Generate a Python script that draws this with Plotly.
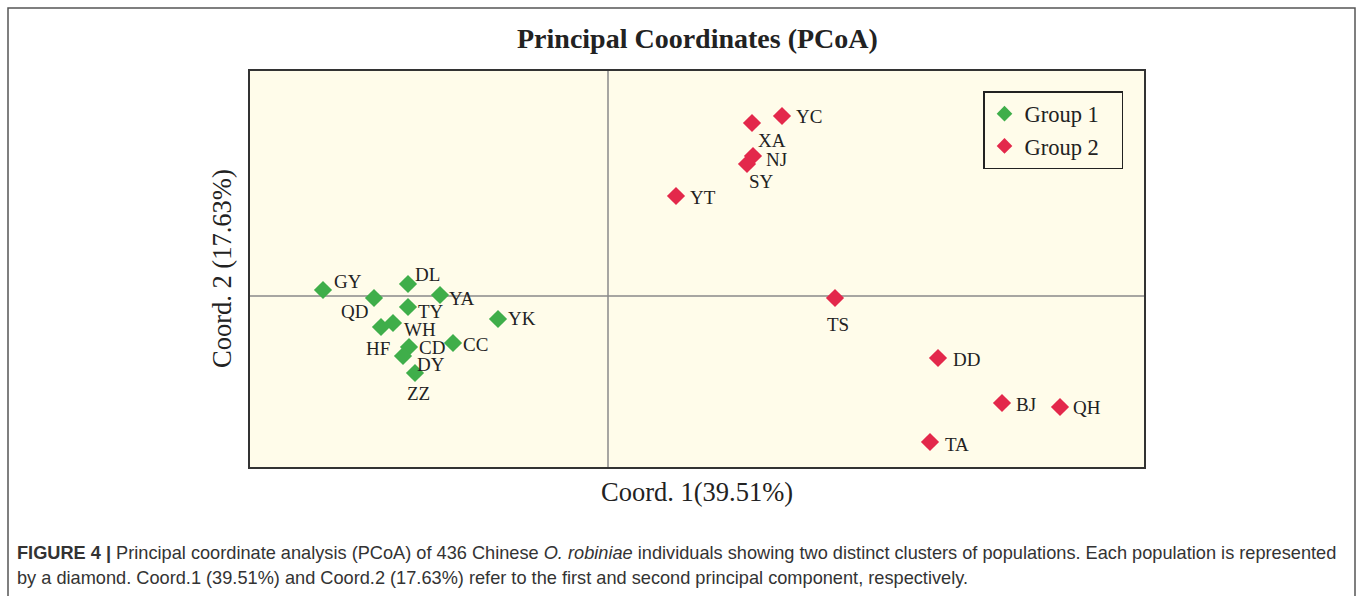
import plotly.graph_objects as go

# ---- data ----
g1_labels = ["GY", "DL", "QD", "YA", "TY", "WH", "HF", "YK", "CC", "CD", "DY", "ZZ"]
g1_x = [-0.285, -0.200, -0.234, -0.168, -0.200, -0.215, -0.227, -0.110, -0.155, -0.199, -0.205, -0.193]
g1_y = [0.006, 0.012, -0.002, 0.001, -0.011, -0.027, -0.031, -0.023, -0.047, -0.051, -0.060, -0.077]

g2_labels = ["YC", "XA", "NJ", "SY", "YT", "TS", "DD", "BJ", "QH", "TA"]
g2_x = [0.174, 0.144, 0.145, 0.139, 0.068, 0.227, 0.330, 0.394, 0.452, 0.322]
g2_y = [0.180, 0.173, 0.140, 0.132, 0.100, -0.002, -0.062, -0.107, -0.111, -0.146]

# label placement (style): (xanchor, xshift px, yshift px)
g1_lab_style = [("left", 9, 9), ("left", 5, 10), ("right", -4, -13), ("left", 7, -3),
                ("left", 8, -4), ("left", 9, -6), ("center", -3, -21), ("left", 8, 1),
                ("left", 8, -1), ("left", 8, 0), ("left", 12, -8), ("center", 3, -20)]
g2_lab_style = [("left", 12, 0), ("center", 20, -17), ("left", 11, -3), ("center", 14, -17),
                ("left", 12, -1), ("center", 3, -26), ("left", 13, -1), ("left", 12, -1),
                ("left", 11, 0), ("left", 13, -2)]

GREEN = "#3FAE4A"
RED = "#E3284B"
SERIF = "Liberation Serif"

# layout geometry (pixels)
W, H = 1357, 596
L, R, T, B = 249, 1145, 70, 468
xr = [-0.359, 0.537]
yr = [-0.172, 0.226]

fig = go.Figure()
fig.add_trace(go.Scatter(
    x=g1_x, y=g1_y, mode="markers", name="Group 1\u00a0\u00a0\u00a0",
    marker=dict(symbol="diamond", size=14, color=GREEN), cliponaxis=False))
fig.add_trace(go.Scatter(
    x=g2_x, y=g2_y, mode="markers", name="Group 2\u00a0\u00a0\u00a0",
    marker=dict(symbol="diamond", size=14, color=RED), cliponaxis=False))


def px_x(p):
    return (p - L) / (R - L)


def px_y(p):
    return (B - p) / (B - T)


shapes = [
    dict(type="line", xref="x", yref="paper", x0=0, x1=0, y0=0, y1=1,
         line=dict(color="#8a8a8a", width=1.5), layer="below"),
    dict(type="line", xref="paper", yref="y", x0=0, x1=1, y0=0, y1=0,
         line=dict(color="#8a8a8a", width=1.5), layer="below"),
    dict(type="rect", xref="paper", yref="paper", x0=0, x1=1, y0=0, y1=1,
         line=dict(color="#333", width=2)),
    dict(type="rect", xref="paper", yref="paper", x0=px_x(8), x1=px_x(1355),
         y0=px_y(610), y1=px_y(8), line=dict(color="#555", width=1.5)),
]

annotations = []
for labels, xs, ys, styles in [(g1_labels, g1_x, g1_y, g1_lab_style),
                               (g2_labels, g2_x, g2_y, g2_lab_style)]:
    for lab, x, y, (anc, dx, dy) in zip(labels, xs, ys, styles):
        annotations.append(dict(text=lab, x=x, y=y, xref="x", yref="y", showarrow=False,
                                xanchor=anc, yanchor="middle", xshift=dx, yshift=dy,
                                font=dict(family=SERIF, size=19, color="#222")))

annotations += [
    dict(text="<b>Principal Coordinates (PCoA)</b>", xref="paper", yref="paper",
         x=0.5, y=px_y(38), xanchor="center", yanchor="middle", showarrow=False,
         font=dict(family=SERIF, size=28, color="#222")),
    dict(text="Coord. 1(39.51%)", xref="paper", yref="paper",
         x=0.5, y=px_y(492), xanchor="center", yanchor="middle", showarrow=False,
         font=dict(family=SERIF, size=26.5, color="#222")),
    dict(text="Coord. 2 (17.63%)", xref="paper", yref="paper", textangle=-90,
         x=px_x(222), y=px_y(269), xanchor="center", yanchor="middle", showarrow=False,
         font=dict(family=SERIF, size=26.5, color="#222")),
    dict(text="<b>FIGURE 4 |</b> Principal coordinate analysis (PCoA) of 436 Chinese <i>O. robiniae</i> individuals showing two distinct clusters of populations. Each population is represented",
         xref="paper", yref="paper", x=px_x(15), y=px_y(553), xanchor="left", yanchor="middle",
         showarrow=False, font=dict(family="Liberation Sans", size=18.2, color="#333")),
    dict(text="by a diamond. Coord.1 (39.51%) and Coord.2 (17.63%) refer to the first and second principal component, respectively.",
         xref="paper", yref="paper", x=px_x(15), y=px_y(578), xanchor="left", yanchor="middle",
         showarrow=False, font=dict(family="Liberation Sans", size=18.2, color="#333")),
]

fig.update_layout(
    width=W, height=H,
    margin=dict(l=L, r=W - R, t=T, b=H - B, pad=0),
    paper_bgcolor="white", plot_bgcolor="#FFFCEA",
    xaxis=dict(range=xr, showgrid=False, zeroline=False, showticklabels=False, ticks="", showline=False),
    yaxis=dict(range=yr, showgrid=False, zeroline=False, showticklabels=False, ticks="", showline=False),
    showlegend=True,
    legend=dict(x=px_x(983), y=px_y(91), xanchor="left", yanchor="top",
                bgcolor="#FFFCEA", bordercolor="#222", borderwidth=1.5,
                font=dict(family=SERIF, size=22.5, color="#222"),
                itemsizing="constant", tracegroupgap=0),
    shapes=shapes, annotations=annotations,
)

fig.write_html(
    "out.html",
    config={"displayModeBar": False},
    post_script="document.body.style.margin='0';document.body.style.overflow='hidden';",
)
